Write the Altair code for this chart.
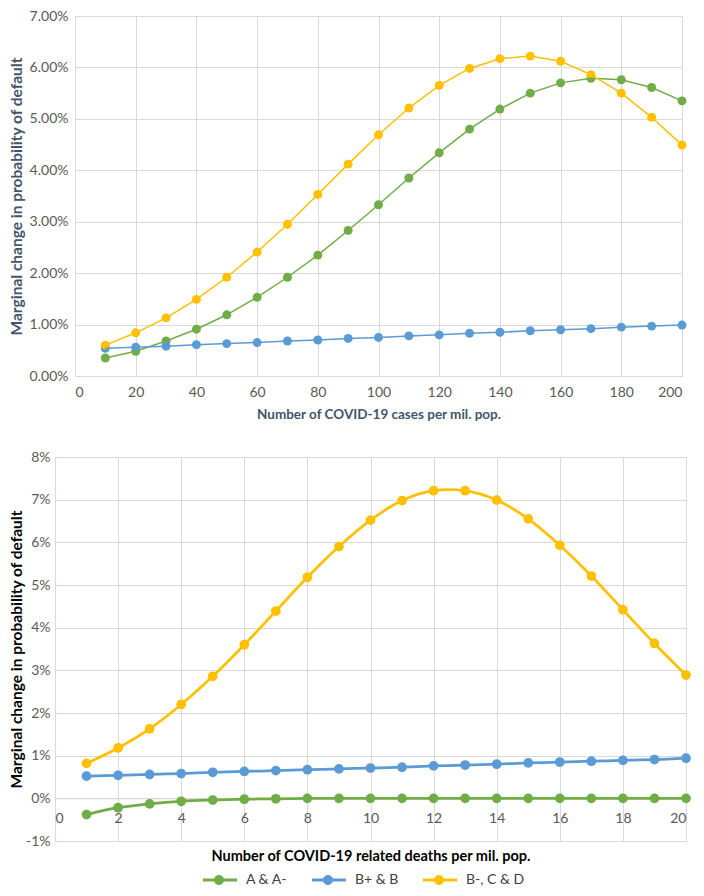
import altair as alt
import pandas as pd

series_names = ["A & A-", "B+ & B", "B-, C & D"]
series_colors = ["#70AD47", "#5B9BD5", "#FFC000"]

# Panel 1: COVID-19 cases per mil. pop. (values in %)
cases = [10, 20, 30, 40, 50, 60, 70, 80, 90, 100, 110, 120, 130, 140, 150, 160, 170, 180, 190, 200]
cases_a = [0.35, 0.48, 0.68, 0.91, 1.19, 1.53, 1.92, 2.35, 2.83, 3.33, 3.85, 4.34, 4.80, 5.19, 5.50, 5.70, 5.79, 5.76, 5.61, 5.35]
cases_b = [0.54, 0.56, 0.58, 0.61, 0.63, 0.65, 0.68, 0.70, 0.73, 0.75, 0.78, 0.80, 0.83, 0.85, 0.88, 0.90, 0.92, 0.95, 0.97, 0.99]
cases_c = [0.60, 0.84, 1.13, 1.49, 1.92, 2.41, 2.95, 3.53, 4.12, 4.69, 5.21, 5.65, 5.98, 6.17, 6.22, 6.12, 5.86, 5.50, 5.03, 4.49]

# Panel 2: COVID-19 related deaths per mil. pop. (values in %)
deaths = [1, 2, 3, 4, 5, 6, 7, 8, 9, 10, 11, 12, 13, 14, 15, 16, 17, 18, 19, 20]
deaths_a = [-0.38, -0.22, -0.13, -0.07, -0.04, -0.02, -0.01, 0.0, 0.0, 0.0, 0.0, 0.0, 0.0, 0.0, 0.0, 0.0, 0.0, 0.0, 0.0, 0.0]
deaths_b = [0.52, 0.54, 0.56, 0.58, 0.61, 0.63, 0.65, 0.67, 0.69, 0.71, 0.73, 0.76, 0.78, 0.80, 0.83, 0.85, 0.87, 0.89, 0.91, 0.94]
deaths_c = [0.82, 1.18, 1.63, 2.20, 2.86, 3.60, 4.39, 5.18, 5.90, 6.52, 6.98, 7.21, 7.21, 6.99, 6.55, 5.93, 5.21, 4.42, 3.63, 2.89]

top_x_ticks = [0, 20, 40, 60, 80, 100, 120, 140, 160, 180, 200]
top_y_ticks = [0.0, 0.01, 0.02, 0.03, 0.04, 0.05, 0.06, 0.07]
bot_x_ticks = [0, 2, 4, 6, 8, 10, 12, 14, 16, 18, 20]
bot_y_ticks = [-0.01, 0.0, 0.01, 0.02, 0.03, 0.04, 0.05, 0.06, 0.07, 0.08]


def to_long(xs, cols):
    rows = []
    for name, vals in zip(series_names, cols):
        for xv, v in zip(xs, vals):
            rows.append({"x": xv, "value": v / 100.0, "series": name})
    return pd.DataFrame(rows)


df_top = to_long(cases, [cases_a, cases_b, cases_c])
df_bot = to_long(deaths, [deaths_a, deaths_b, deaths_c])

GRID = "#D9D9D9"
color_scale = alt.Scale(domain=series_names, range=series_colors)

# legend glyph: a short line with a dot on it (both sub-paths clockwise)
legend_symbol = ("M-1,-0.3 L5.8,-0.3 L5.8,0.3 L-1,0.3 Z "
                 "M1.2,0 A1,1 0 1,1 3.2,0 A1,1 0 1,1 1.2,0 Z")


def make_legend():
    return alt.Legend(
        title=None, orient="none", legendX=146, legendY=857,
        direction="horizontal",
        symbolType=legend_symbol, symbolSize=100, symbolStrokeWidth=0,
        symbolOpacity=1,
        labelOffset=31, columnPadding=22,
        labelFont="Lato", labelFontSize=14, labelColor="#404040",
    )


def color_enc():
    return alt.Color("series:N", scale=color_scale, legend=make_legend())


# ---------- top chart ----------
TOP_SHIFT = 20      # top panel's x=0 sits 20px right of the bottom panel's
TOP_W = 627
TOP_TITLE_COLOR = "#44546A"
top_x = alt.X(
    "x:Q", scale=alt.Scale(domain=[0, 200], nice=False, range=[TOP_SHIFT, TOP_W]),
    axis=alt.Axis(values=top_x_ticks, title="Number of COVID-19 cases per mil. pop.",
                  grid=True, domain=True, domainColor=GRID, ticks=False,
                  labelPadding=9, titlePadding=8, titleColor=TOP_TITLE_COLOR,
                  titleFontSize=13.5),
)
top_y = alt.Y(
    "value:Q", scale=alt.Scale(domain=[0, 0.07], nice=False),
    axis=alt.Axis(values=top_y_ticks, format=".2%", offset=-TOP_SHIFT,
                  title="Marginal change in probability of default",
                  grid=True, domain=False, ticks=False,
                  labelPadding=7, titlePadding=5, titleColor=TOP_TITLE_COLOR),
)
top_base = alt.Chart(df_top).encode(x=top_x, y=top_y, color=color_enc())
top_pts = top_base.mark_point(filled=True, size=80, opacity=1)
top_line = top_base.mark_line(strokeWidth=1.5)
top = alt.layer(top_pts, top_line).properties(width=TOP_W, height=360)

# ---------- bottom chart ----------
BOT_H = 384
zero_offset = BOT_H / 9.0   # pixel height of 1 percentage point (domain -1%..8%)
bot_xscale = alt.Scale(domain=[0, 20], nice=False)
bot_y = alt.Y(
    "value:Q", scale=alt.Scale(domain=[-0.01, 0.08], nice=False),
    axis=alt.Axis(values=bot_y_ticks, format=".0%",
                  labelExpr="replace(datum.label, '\u2212', '-')",
                  title="Marginal change in probability of default",
                  grid=True, domain=False, ticks=False,
                  labelPadding=5, titlePadding=1, titleColor="#000000"),
)
bot_base = alt.Chart(df_bot).encode(y=bot_y, color=color_enc())
bot_pts = bot_base.mark_point(filled=True, size=95, opacity=1).encode(
    x=alt.X("x:Q", scale=bot_xscale,
            axis=alt.Axis(values=bot_x_ticks, grid=False, labels=True, ticks=False,
                          domain=True, domainColor=GRID, orient="bottom",
                          offset=-zero_offset, labelPadding=13,
                          title="Number of COVID-19 related deaths per mil. pop.",
                          titlePadding=24, titleColor="#000000", titleFontSize=14.5)),
)
bot_line = bot_base.mark_line(strokeWidth=2.75, interpolate="catmull-rom").encode(
    x=alt.X("x:Q", scale=bot_xscale,
            axis=alt.Axis(values=bot_x_ticks, grid=True, labels=False, ticks=False,
                          domain=False, orient="bottom", title=None)),
)
bottom = alt.layer(bot_pts, bot_line).resolve_axis(x="independent").properties(
    width=631, height=BOT_H)

chart = alt.vconcat(top, bottom, spacing=28).properties(
    padding=0
).configure_axis(
    labelFont="Lato", labelFontSize=14, labelColor="#595959",
    titleFont="Lato", titleFontSize=15.5, titleFontWeight="bold",
    gridColor=GRID, gridWidth=1,
).configure_view(stroke="transparent")

chart.save("out.html", embed_options={"renderer": "svg", "actions": False})
